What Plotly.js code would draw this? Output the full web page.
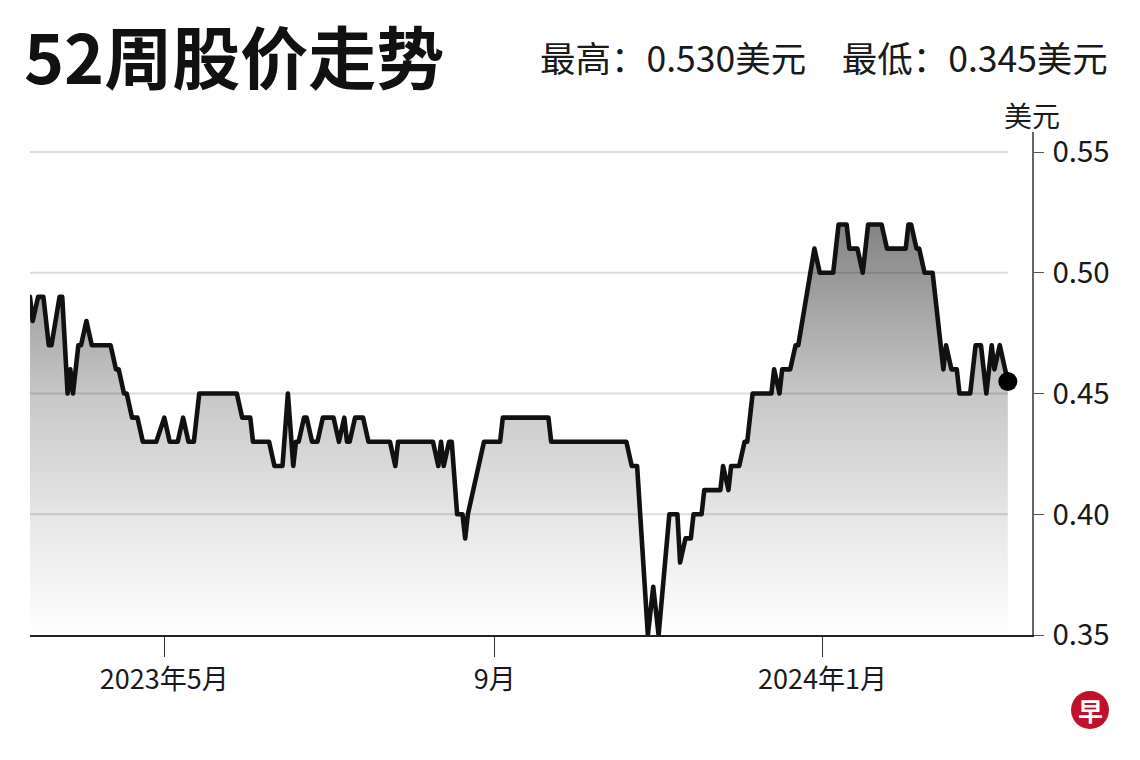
<!DOCTYPE html>
<html>
<head>
<meta charset="utf-8">
<script src="https://cdn.plot.ly/plotly-3.0.1.min.js"></script>
<style>
  html, body { margin: 0; padding: 0; background: #fff; }
  #chart { width: 1140px; height: 760px; }
  .scatterlayer path.js-line { stroke-linejoin: round; stroke-linecap: round; }
</style>
</head>
<body>
<div id="chart"></div>
<script>
// ---- data ----
const dates = [
  '2023-03-12','2023-03-13','2023-03-15','2023-03-17','2023-03-19','2023-03-20','2023-03-23','2023-03-24',
  '2023-03-26','2023-03-27','2023-03-28','2023-03-30','2023-03-31','2023-04-02','2023-04-04','2023-04-11',
  '2023-04-13','2023-04-14','2023-04-16','2023-04-17','2023-04-19','2023-04-21','2023-04-23','2023-04-28',
  '2023-05-01','2023-05-03','2023-05-06','2023-05-08','2023-05-10','2023-05-12','2023-05-14','2023-05-28',
  '2023-05-30','2023-06-02','2023-06-03','2023-06-09','2023-06-11','2023-06-14','2023-06-16','2023-06-18',
  '2023-06-19','2023-06-20','2023-06-22','2023-06-23','2023-06-25','2023-06-27','2023-06-29','2023-07-03',
  '2023-07-05','2023-07-07','2023-07-08','2023-07-09','2023-07-11','2023-07-14','2023-07-16','2023-07-24',
  '2023-07-26','2023-07-27','2023-08-09','2023-08-11','2023-08-12','2023-08-13','2023-08-15','2023-08-16',
  '2023-08-18','2023-08-20','2023-08-21','2023-08-22','2023-08-28','2023-09-03','2023-09-04','2023-09-21',
  '2023-09-22','2023-10-20','2023-10-22','2023-10-24','2023-10-28','2023-10-30','2023-11-01','2023-11-05',
  '2023-11-08','2023-11-09','2023-11-11','2023-11-13','2023-11-14','2023-11-17','2023-11-18','2023-11-24',
  '2023-11-25','2023-11-27','2023-11-28','2023-12-01','2023-12-03','2023-12-04','2023-12-06','2023-12-13',
  '2023-12-14','2023-12-16','2023-12-17','2023-12-20','2023-12-22','2023-12-23','2023-12-29','2023-12-31',
  '2024-01-05','2024-01-07','2024-01-10','2024-01-11','2024-01-14','2024-01-16','2024-01-18','2024-01-23',
  '2024-01-25','2024-02-01','2024-02-02','2024-02-03','2024-02-05','2024-02-06','2024-02-08','2024-02-11',
  '2024-02-15','2024-02-16','2024-02-18','2024-02-20','2024-02-21','2024-02-25','2024-02-27','2024-02-29',
  '2024-03-02','2024-03-04','2024-03-05','2024-03-07','2024-03-10'
];
const prices = [
  0.49,0.48,0.49,0.49,0.47,0.47,0.49,0.49,
  0.45,0.46,0.45,0.47,0.47,0.48,0.47,0.47,
  0.46,0.46,0.45,0.45,0.44,0.44,0.43,0.43,
  0.44,0.43,0.43,0.44,0.43,0.43,0.45,0.45,
  0.44,0.44,0.43,0.43,0.42,0.42,0.45,0.42,
  0.43,0.43,0.44,0.44,0.43,0.43,0.44,0.44,
  0.43,0.44,0.43,0.43,0.44,0.44,0.43,0.43,
  0.42,0.43,0.43,0.42,0.43,0.42,0.43,0.43,
  0.40,0.40,0.39,0.40,0.43,0.43,0.44,0.44,
  0.43,0.43,0.42,0.42,0.35,0.37,0.35,0.40,
  0.40,0.38,0.39,0.39,0.40,0.40,0.41,0.41,
  0.42,0.41,0.42,0.42,0.43,0.43,0.45,0.45,
  0.46,0.45,0.46,0.46,0.47,0.47,0.51,0.50,
  0.50,0.52,0.52,0.51,0.51,0.50,0.52,0.52,
  0.51,0.51,0.52,0.52,0.51,0.51,0.50,0.50,
  0.46,0.47,0.46,0.46,0.45,0.45,0.47,0.47,
  0.45,0.47,0.46,0.47,0.455
];
const xTickVals = ['2023-05-01','2023-09-01','2024-01-01'];
const xTickText = ['2023年5月','9月','2024年1月'];
const yTickVals = [0.35,0.40,0.45,0.50,0.55];
const yTickText = ['0.35','0.40','0.45','0.50','0.55'];
const gridVals = [0.40,0.45,0.50,0.55];
const titleText = '52周股价走势';
const statsText = '最高：0.530美元\u3000最低：0.345美元';
const unitText = '美元';
const logoText = '早';

// ---- layout geometry (pixels) ----
const W = 1140, H = 760;
const L = 30, R = 1032, T = 132, B = 635;
const pw = R - L, ph = B - T;
const px = x => (x - L) / pw;
const py = y => (B - y) / ph;
const FONT = '"Noto Sans CJK SC", "Noto Sans", sans-serif';

const gMin = 0.35, gMax = 0.53;
const gs = v => (v - gMin) / (gMax - gMin);

const traces = [
  {
    x: dates, y: prices, type: 'scatter', mode: 'lines',
    line: { color: '#111111', width: 4.6, shape: 'linear' },
    fill: 'tozeroy',
    fillgradient: {
      type: 'vertical', start: gMin, stop: gMax,
      colorscale: [
        [0, 'rgba(0,0,0,0)'],
        [gs(0.40), 'rgba(0,0,0,0.10)'],
        [gs(0.45), 'rgba(0,0,0,0.22)'],
        [gs(0.50), 'rgba(0,0,0,0.41)'],
        [1, 'rgba(0,0,0,0.52)']
      ]
    },
    hoverinfo: 'skip', showlegend: false
  },
  {
    x: [dates[dates.length - 1]], y: [prices[prices.length - 1]],
    type: 'scatter', mode: 'markers',
    marker: { color: '#000', size: 19 },
    hoverinfo: 'skip', showlegend: false, cliponaxis: false
  }
];

const shapes = gridVals.map(v => ({
  type: 'line', xref: 'x', yref: 'y',
  x0: dates[0], x1: dates[dates.length - 1], y0: v, y1: v,
  line: { color: '#dcdcdc', width: 2 }, layer: 'below'
}));
// logo circle
shapes.push({
  type: 'circle', xref: 'paper', yref: 'paper',
  x0: px(1071), x1: px(1109), y0: py(729), y1: py(691),
  fillcolor: '#c0102c', line: { width: 0 }, layer: 'above'
});

const layout = {
  width: W, height: H,
  margin: { l: L, r: W - R, t: T, b: H - B, pad: 0 },
  paper_bgcolor: '#ffffff', plot_bgcolor: '#ffffff',
  font: { family: FONT, color: '#1a1a1a' },
  title: {
    text: '<b>' + titleText + '</b>',
    font: { family: FONT, size: 68, color: '#111' },
    x: 24 / W, xanchor: 'left', xref: 'container',
    y: 1 - 60 / H, yanchor: 'middle', yref: 'container'
  },
  xaxis: {
    type: 'date',
    range: ['2023-03-12', '2024-03-19'],
    tickvals: xTickVals, ticktext: xTickText,
    ticks: 'outside', ticklen: 20, tickwidth: 1, tickcolor: '#333',
    showline: true, linecolor: '#222', linewidth: 1.5,
    showgrid: false, zeroline: false,
    tickfont: { family: FONT, size: 27, color: '#1a1a1a' },
    fixedrange: true
  },
  yaxis: {
    side: 'right',
    range: [0.35, 0.35 + (B - T) / (B - 152) * 0.20],
    tickvals: yTickVals, ticktext: yTickText,
    ticks: 'outside', ticklen: 10, tickwidth: 1, tickcolor: '#555',
    showline: true, linecolor: '#666', linewidth: 1.5,
    showgrid: false, zeroline: false,
    tickfont: { family: FONT, size: 29.5, color: '#1a1a1a' },
    ticklabelstandoff: 3,
    fixedrange: true
  },
  shapes: shapes,
  annotations: [
    {
      text: statsText, xref: 'paper', yref: 'paper',
      x: px(1110), y: py(57), xanchor: 'right', yanchor: 'middle',
      showarrow: false, font: { family: FONT, size: 35.5, color: '#1a1a1a' }
    },
    {
      text: unitText, xref: 'paper', yref: 'paper',
      x: px(1032), y: py(115), xanchor: 'center', yanchor: 'middle',
      showarrow: false, font: { family: FONT, size: 28, color: '#1a1a1a' }
    },
    {
      text: '<b>' + logoText + '</b>', xref: 'paper', yref: 'paper',
      x: px(1090), y: py(710), xanchor: 'center', yanchor: 'middle',
      showarrow: false, font: { family: FONT, size: 25, color: '#ffffff' }
    }
  ]
};

Plotly.newPlot('chart', traces, layout, { displayModeBar: false, staticPlot: true });
</script>
</body>
</html>
